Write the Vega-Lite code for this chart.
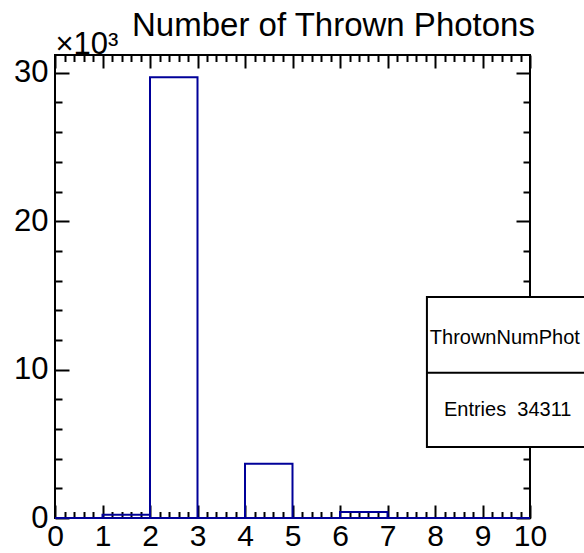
{
  "$schema": "https://vega.github.io/schema/vega-lite/v6.json",
  "width": 475,
  "height": 463,
  "autosize": {"type": "none"},
  "padding": {"left": 55, "top": 55, "right": 54, "bottom": 35},
  "background": "white",
  "config": {
    "view": {"stroke": "black", "strokeWidth": 2},
    "font": "Liberation Sans",
    "axis": {"grid": false, "domain": false, "tickColor": "black", "labelColor": "black", "titleColor": "black", "tickWidth": 2, "labelOverlap": false, "labelBound": false, "labelFlush": false}
  },
  "title": {
    "text": "Number of Thrown Photons",
    "fontSize": 33,
    "font": "Liberation Sans",
    "fontWeight": "normal",
    "color": "black",
    "anchor": "middle",
    "frame": "group",
    "dx": 41,
    "offset": -41,
    "baseline": "alphabetic"
  },
  "data": {
    "values": [
      {"lo": 0, "hi": 1, "count": 0},
      {"lo": 1, "hi": 2, "count": 0.22},
      {"lo": 2, "hi": 3, "count": 29.7},
      {"lo": 3, "hi": 4, "count": 0},
      {"lo": 4, "hi": 5, "count": 3.66},
      {"lo": 5, "hi": 6, "count": 0},
      {"lo": 6, "hi": 7, "count": 0.4},
      {"lo": 7, "hi": 8, "count": 0},
      {"lo": 8, "hi": 9, "count": 0},
      {"lo": 9, "hi": 10, "count": 0}
    ]
  },
  "resolve": {"axis": {"x": "independent", "y": "independent"}},
  "layer": [
    {
      "mark": {"type": "bar", "opacity": 0},
      "encoding": {
        "x": {"field": "lo", "type": "quantitative", "scale": {"domain": [0, 10], "nice": false, "zero": false},
          "axis": {"orient": "bottom", "values": [0.2,0.4,0.6,0.8,1.2,1.4,1.6,1.8,2.2,2.4,2.6,2.8,3.2,3.4,3.6,3.8,4.2,4.4,4.6,4.8,5.2,5.4,5.6,5.8,6.2,6.4,6.6,6.8,7.2,7.4,7.6,7.8,8.2,8.4,8.6,8.8,9.2,9.4,9.6,9.8], "tickSize": -6.5, "labels": false, "title": null}},
        "x2": {"field": "hi"},
        "y": {"field": "count", "type": "quantitative", "scale": {"domain": [0, 31.2], "nice": false},
          "axis": {"orient": "left", "values": [2,4,6,8,12,14,16,18,22,24,26,28], "tickSize": -7, "labels": false, "title": null}},
        "y2": {"datum": 0}
      }
    },
    {
      "mark": {"type": "bar", "opacity": 0},
      "encoding": {
        "x": {"field": "lo", "type": "quantitative", "scale": {"domain": [0, 10], "nice": false, "zero": false},
          "axis": {"orient": "bottom", "values": [0,1,2,3,4,5,6,7,8,9,10], "tickSize": -13, "labels": false, "title": null}},
        "x2": {"field": "hi"},
        "y": {"field": "count", "type": "quantitative", "scale": {"domain": [0, 31.2], "nice": false},
          "axis": {"orient": "left", "values": [0,10,20,30], "tickSize": -14, "labels": false, "title": null}},
        "y2": {"datum": 0}
      }
    },
    {
      "mark": {"type": "bar", "opacity": 0},
      "encoding": {
        "x": {"field": "lo", "type": "quantitative", "scale": {"domain": [0, 10], "nice": false, "zero": false},
          "axis": {"orient": "top", "values": [0.2,0.4,0.6,0.8,1.2,1.4,1.6,1.8,2.2,2.4,2.6,2.8,3.2,3.4,3.6,3.8,4.2,4.4,4.6,4.8,5.2,5.4,5.6,5.8,6.2,6.4,6.6,6.8,7.2,7.4,7.6,7.8,8.2,8.4,8.6,8.8,9.2,9.4,9.6,9.8], "tickSize": -6.5, "labels": false, "title": null}},
        "x2": {"field": "hi"},
        "y": {"field": "count", "type": "quantitative", "scale": {"domain": [0, 31.2], "nice": false},
          "axis": {"orient": "right", "values": [2,4,6,8,12,14,16,18,22,24,26,28], "tickSize": -7, "labels": false, "title": null}},
        "y2": {"datum": 0}
      }
    },
    {
      "mark": {"type": "bar", "opacity": 0},
      "encoding": {
        "x": {"field": "lo", "type": "quantitative", "scale": {"domain": [0, 10], "nice": false, "zero": false},
          "axis": {"orient": "top", "values": [0,1,2,3,4,5,6,7,8,9,10], "tickSize": -13, "labels": false, "title": null}},
        "x2": {"field": "hi"},
        "y": {"field": "count", "type": "quantitative", "scale": {"domain": [0, 31.2], "nice": false},
          "axis": {"orient": "right", "values": [0,10,20,30], "tickSize": -14, "labels": false, "title": null}},
        "y2": {"datum": 0}
      }
    },
    {
      "mark": {"type": "bar", "fill": "white", "fillOpacity": 0, "stroke": "#000099", "strokeWidth": 2},
      "encoding": {
        "x": {"field": "lo", "type": "quantitative", "scale": {"domain": [0, 10], "nice": false, "zero": false},
          "axis": {"orient": "bottom", "values": [0,1,2,3,4,5,6,7,8,9,10], "ticks": false, "labelFontSize": 30, "labelPadding": 3, "title": null}},
        "x2": {"field": "hi"},
        "y": {"field": "count", "type": "quantitative", "scale": {"domain": [0, 31.2], "nice": false},
          "axis": {"orient": "left", "values": [0,10,20,30], "ticks": false, "labelFontSize": 31, "labelPadding": 7,
            "title": "×10³", "titleAngle": 0, "titleAlign": "left", "titleBaseline": "alphabetic", "titleX": 0, "titleY": -2, "titleFontSize": 31, "titleFontWeight": "normal", "titleFont": "Liberation Sans"}},
        "y2": {"datum": 0}
      }
    },
    {
      "data": {"values": [{}]},
      "mark": {"type": "rect", "fill": "white", "stroke": "black", "strokeWidth": 2},
      "encoding": {
        "x": {"datum": 7.83, "type": "quantitative", "axis": null, "scale": {"domain": [0, 10], "nice": false, "zero": false}},
        "x2": {"datum": 11.5},
        "y": {"datum": 14.89, "type": "quantitative", "axis": null, "scale": {"domain": [0, 31.2], "nice": false}},
        "y2": {"datum": 4.78}
      }
    },
    {
      "data": {"values": [{}]},
      "mark": {"type": "rule", "stroke": "black", "strokeWidth": 2},
      "encoding": {
        "x": {"datum": 7.83, "type": "quantitative", "axis": null},
        "x2": {"datum": 11.5},
        "y": {"datum": 9.79, "type": "quantitative", "axis": null}
      }
    },
    {
      "data": {"values": [{"label": "ThrownNumPhot"}]},
      "mark": {"type": "text", "fontSize": 20, "font": "Liberation Sans", "align": "center", "baseline": "middle", "color": "black"},
      "encoding": {
        "x": {"datum": 9.47, "type": "quantitative", "axis": null},
        "y": {"datum": 12.13, "type": "quantitative", "axis": null},
        "text": {"field": "label"}
      }
    },
    {
      "data": {"values": [{"label": "Entries\u00a0\u00a034311"}]},
      "mark": {"type": "text", "fontSize": 20, "font": "Liberation Sans", "align": "center", "baseline": "middle", "color": "black"},
      "encoding": {
        "x": {"datum": 9.53, "type": "quantitative", "axis": null},
        "y": {"datum": 7.28, "type": "quantitative", "axis": null},
        "text": {"field": "label"}
      }
    }
  ]
}
